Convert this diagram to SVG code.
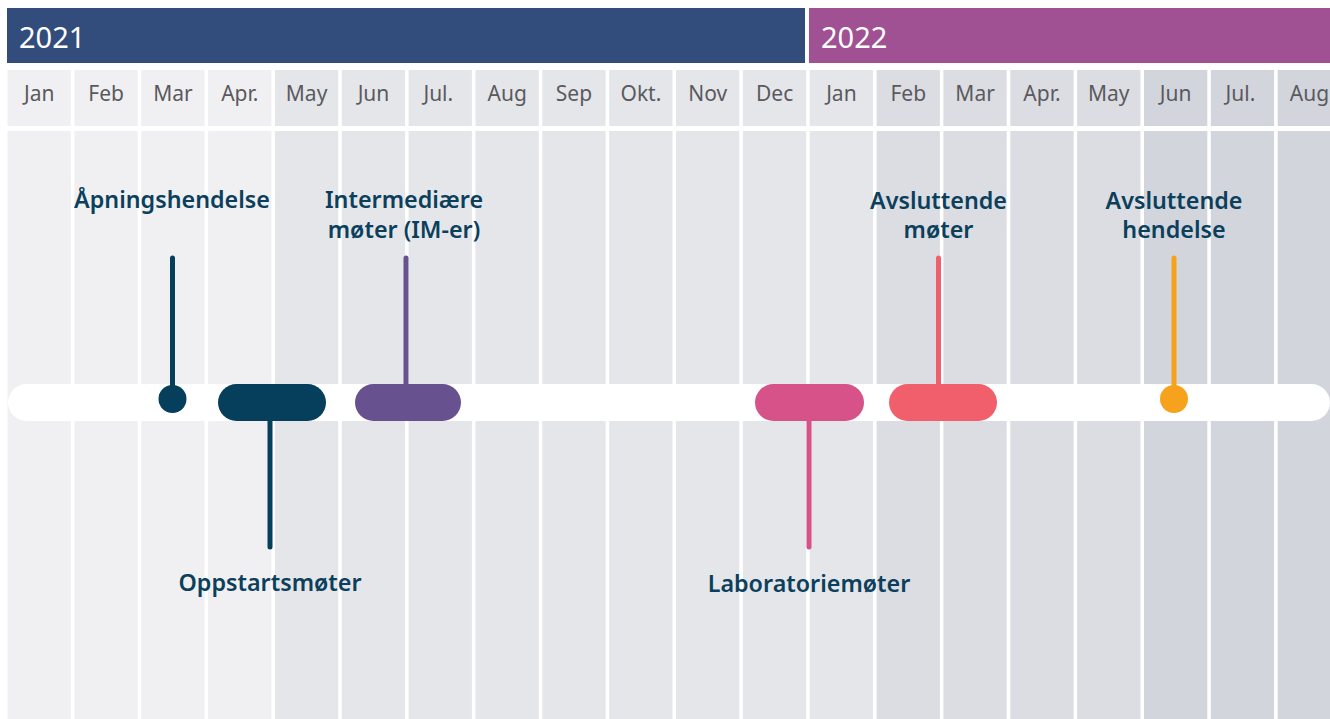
<svg xmlns="http://www.w3.org/2000/svg" width="1330" height="719" viewBox="0 0 1330 719">
<style>
.c1{fill:#f0f0f2}.c2{fill:#e5e6ea}.c3{fill:#dcdde2}.c4{fill:#d3d5dd}
.yr{font-family:"Noto Sans","Liberation Sans",sans-serif;font-size:29px;fill:#ffffff}
.mo{font-family:"Noto Sans","Liberation Sans",sans-serif;font-size:21px;fill:#5a5a5e;text-anchor:middle}
.lb{font-family:"Noto Sans","Liberation Sans",sans-serif;font-size:23.3px;font-weight:600;fill:#0b3f5c;text-anchor:middle}
.stem{stroke-width:5;stroke-linecap:round;fill:none}
</style>
<rect width="1330" height="719" fill="#ffffff"/>
<g id="headers">
<rect x="7" y="8" width="798" height="55" fill="#324d7c"/>
<text class="yr" x="19" y="48">2021</text>
<rect x="809" y="8" width="521" height="55" fill="#a05193"/>
<text class="yr" x="821" y="48">2022</text>
</g>
<g id="columns">
<rect class="c1" x="7.5" y="70" width="63.3" height="56"/><rect class="c1" x="7.5" y="131" width="63.3" height="588"/>
<rect class="c1" x="74.4" y="70" width="63.3" height="56"/><rect class="c1" x="74.4" y="131" width="63.3" height="588"/>
<rect class="c1" x="141.2" y="70" width="63.3" height="56"/><rect class="c1" x="141.2" y="131" width="63.3" height="588"/>
<rect class="c1" x="208.1" y="70" width="63.3" height="56"/><rect class="c1" x="208.1" y="131" width="63.3" height="588"/>
<rect class="c2" x="274.9" y="70" width="63.3" height="56"/><rect class="c2" x="274.9" y="131" width="63.3" height="588"/>
<rect class="c2" x="341.8" y="70" width="63.3" height="56"/><rect class="c2" x="341.8" y="131" width="63.3" height="588"/>
<rect class="c2" x="408.6" y="70" width="63.3" height="56"/><rect class="c2" x="408.6" y="131" width="63.3" height="588"/>
<rect class="c2" x="475.5" y="70" width="63.3" height="56"/><rect class="c2" x="475.5" y="131" width="63.3" height="588"/>
<rect class="c2" x="542.3" y="70" width="63.3" height="56"/><rect class="c2" x="542.3" y="131" width="63.3" height="588"/>
<rect class="c2" x="609.2" y="70" width="63.3" height="56"/><rect class="c2" x="609.2" y="131" width="63.3" height="588"/>
<rect class="c2" x="676" y="70" width="63.3" height="56"/><rect class="c2" x="676" y="131" width="63.3" height="588"/>
<rect class="c2" x="742.9" y="70" width="63.3" height="56"/><rect class="c2" x="742.9" y="131" width="63.3" height="588"/>
<rect class="c2" x="809.7" y="70" width="63.3" height="56"/><rect class="c2" x="809.7" y="131" width="63.3" height="588"/>
<rect class="c3" x="876.6" y="70" width="63.3" height="56"/><rect class="c3" x="876.6" y="131" width="63.3" height="588"/>
<rect class="c3" x="943.4" y="70" width="63.3" height="56"/><rect class="c3" x="943.4" y="131" width="63.3" height="588"/>
<rect class="c3" x="1010.3" y="70" width="63.3" height="56"/><rect class="c3" x="1010.3" y="131" width="63.3" height="588"/>
<rect class="c3" x="1077.1" y="70" width="63.3" height="56"/><rect class="c3" x="1077.1" y="131" width="63.3" height="588"/>
<rect class="c4" x="1144" y="70" width="63.3" height="56"/><rect class="c4" x="1144" y="131" width="63.3" height="588"/>
<rect class="c4" x="1210.8" y="70" width="63.3" height="56"/><rect class="c4" x="1210.8" y="131" width="63.3" height="588"/>
<rect class="c4" x="1277.7" y="70" width="63.3" height="56"/><rect class="c4" x="1277.7" y="131" width="63.3" height="588"/>
</g>
<g id="months">
<text class="mo" x="39.2" y="101">Jan</text>
<text class="mo" x="106.1" y="101">Feb</text>
<text class="mo" x="172.9" y="101">Mar</text>
<text class="mo" x="239.8" y="101">Apr.</text>
<text class="mo" x="306.6" y="101">May</text>
<text class="mo" x="373.5" y="101">Jun</text>
<text class="mo" x="438.3" y="101">Jul.</text>
<text class="mo" x="507.2" y="101">Aug</text>
<text class="mo" x="574" y="101">Sep</text>
<text class="mo" x="640.9" y="101">Okt.</text>
<text class="mo" x="707.7" y="101">Nov</text>
<text class="mo" x="774.6" y="101">Dec</text>
<text class="mo" x="841.4" y="101">Jan</text>
<text class="mo" x="908.3" y="101">Feb</text>
<text class="mo" x="975.1" y="101">Mar</text>
<text class="mo" x="1042" y="101">Apr.</text>
<text class="mo" x="1108.8" y="101">May</text>
<text class="mo" x="1175.7" y="101">Jun</text>
<text class="mo" x="1240.5" y="101">Jul.</text>
<text class="mo" x="1309.4" y="101">Aug</text>
</g>
<rect id="track" x="8" y="384" width="1322" height="37" rx="18.5" fill="#ffffff"/>
<g id="connectors">
<line class="stem" x1="172.5" y1="258" x2="172.5" y2="395" stroke="#063f5c"/>
<line class="stem" x1="270" y1="415" x2="270" y2="547" stroke="#063f5c"/>
<line class="stem" x1="406" y1="258" x2="406" y2="390" stroke="#67528f"/>
<line class="stem" x1="809" y1="415" x2="809" y2="547" stroke="#d65289"/>
<line class="stem" x1="938.5" y1="258" x2="938.5" y2="390" stroke="#f15f6c"/>
<line class="stem" x1="1174" y1="258" x2="1174" y2="395" stroke="#f7a21d"/>
</g>
<g id="aapningshendelse">
<circle cx="172.5" cy="399" r="14" fill="#063f5c"/>
<text class="lb" x="172" y="208">Åpningshendelse</text>
</g>
<g id="oppstartsmoeter">
<rect x="218" y="384" width="108" height="37" rx="18.5" fill="#063f5c"/>
<text class="lb" x="270" y="591">Oppstartsmøter</text>
</g>
<g id="intermediaere">
<rect x="355" y="384" width="106" height="37" rx="18.5" fill="#67528f"/>
<text class="lb" x="404" y="208">Intermediære</text>
<text class="lb" x="404" y="238">møter (IM-er)</text>
</g>
<g id="laboratoriemoeter">
<rect x="755" y="384" width="109" height="37" rx="18.5" fill="#d65289"/>
<text class="lb" x="809" y="592">Laboratoriemøter</text>
</g>
<g id="avsluttende-moeter">
<rect x="889" y="384" width="108" height="37" rx="18.5" fill="#f15f6c"/>
<text class="lb" x="938.5" y="209">Avsluttende</text>
<text class="lb" x="938.5" y="238">møter</text>
</g>
<g id="avsluttende-hendelse">
<circle cx="1174" cy="399" r="14" fill="#f7a21d"/>
<text class="lb" x="1174" y="209">Avsluttende</text>
<text class="lb" x="1174" y="238">hendelse</text>
</g>
</svg>
